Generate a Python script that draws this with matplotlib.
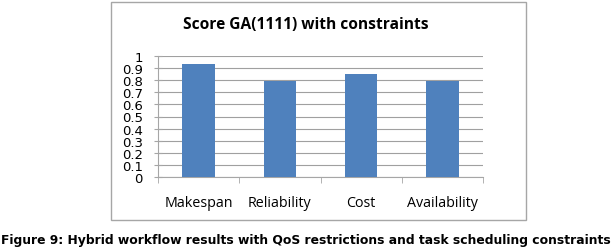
import matplotlib
matplotlib.use("Agg")
import matplotlib.pyplot as plt
from matplotlib.patches import Rectangle

categories = ['Makespan', 'Reliability', 'Cost', 'Availability']
scores = [0.93, 0.79, 0.855, 0.79]
yticks = [0, 0.1, 0.2, 0.3, 0.4, 0.5, 0.6, 0.7, 0.8, 0.9, 1]
ytick_labels = ['0', '0.1', '0.2', '0.3', '0.4', '0.5', '0.6', '0.7', '0.8', '0.9', '1']

plt.rcParams['font.family'] = ['Open Sans', 'DejaVu Sans']

fig = plt.figure(figsize=(6.15, 2.51), dpi=100, facecolor='white')

# outer chart frame
fig.patches.append(Rectangle((111 / 615, 1 - 221 / 251), 415 / 615, 218 / 251,
                             transform=fig.transFigure, fill=False,
                             edgecolor='#a6a6a6', linewidth=1.0))

ax = fig.add_axes([158 / 615, 1 - 178 / 251, 325 / 615, 121 / 251])
x = range(len(categories))
ax.bar(x, scores, width=0.4, color='#4f81bd', zorder=3)

ax.set_xlim(-0.5, len(categories) - 0.5)
ax.set_ylim(0, 1)
ax.set_yticks(yticks)
ax.set_yticklabels(ytick_labels, fontsize=9.5, family=['DejaVu Sans'])
ax.tick_params(axis='y', length=6, direction='inout', color='#a6a6a6', pad=8)
ax.set_xticks(list(x))
ax.set_xticklabels(categories, fontsize=10.3)
ax.tick_params(axis='x', length=0, pad=13)
# category boundary ticks
ax.set_xticks([i - 0.5 for i in range(len(categories) + 1)], minor=True)
ax.tick_params(axis='x', which='minor', length=4, color='#a6a6a6', direction='out')

ax.grid(axis='y', color='#a0a0a0', linewidth=0.8, zorder=0)
for side in ['top', 'right']:
    ax.spines[side].set_visible(False)
ax.spines['left'].set_color('#a6a6a6')
ax.spines['bottom'].set_color('#a6a6a6')

fig.text(306 / 615, 1 - 25 / 251, 'Score GA(1111) with constraints',
         ha='center', va='center', fontsize=11.2, fontweight='bold')

fig.text(306 / 615, 1 - 241 / 251,
         'Figure 9: Hybrid workflow results with QoS restrictions and task scheduling constraints',
         ha='center', va='center', fontsize=8.95, fontweight='bold',
         family=['DejaVu Sans'])

fig.savefig('out.png', dpi=100, facecolor='white')
